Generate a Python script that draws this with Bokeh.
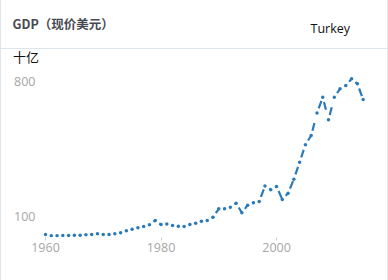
from bokeh.plotting import figure
from bokeh.layouts import column
from bokeh.models import FixedTicker, Label, BoxAnnotation, ColumnDataSource, Range1d
from bokeh.embed import file_html
from bokeh.resources import INLINE

years = list(range(1960, 2016))
gdp = [6.7, 0.5, 0.8, 1.5, 2.0, 2.5, 3.0, 5.0, 6.7, 10.3,
       6.7, 6.7, 10.3, 15.5, 25.9, 34.1, 41.4, 48.1, 57.0, 79.3,
       58.5, 61.0, 53.3, 49.7, 48.1, 58.5, 65.3, 75.6, 79.3, 96.4,
       139.9, 139.9, 148.2, 169.0, 119.2, 158.6, 171.0, 177.8, 258.1, 238.4,
       255.6, 188.1, 220.8, 293.4, 381.6, 472.3, 520.0, 636.7, 718.6, 601.4,
       718.6, 762.7, 779.3, 814.0, 788.0, 706.7]
y_ticks = [100, 800]
x_ticks = [1960, 1980, 2000]
title_text = "GDP（现价美元）"
unit_text = "十亿"
country = "Turkey"

color = "#2a7ab9"
rule = "#dde5ec"

# ---- header (title, series name, separator, unit) ----
head = figure(width=388, height=68, output_backend="svg", toolbar_location=None,
              x_range=Range1d(0, 388), y_range=Range1d(68, 0),
              x_axis_location=None, y_axis_location=None, min_border=0)
head.frame_align = False
head.outline_line_color = None
head.grid.visible = False
head.background_fill_alpha = 0
head.border_fill_alpha = 0
head.add_layout(BoxAnnotation(left=0, right=388, top=47.5, bottom=48.5,
                              fill_color=rule, fill_alpha=1, line_color=None))
head.add_layout(Label(x=12, y=22.5, text=title_text,
                      text_font="Noto Sans CJK SC", text_font_style="bold", text_font_size="12.5px",
                      text_color="#464a50", text_baseline="middle"))
head.add_layout(Label(x=310, y=28, text=country,
                      text_font="Open Sans", text_font_size="12.5px",
                      text_color="#111111", text_baseline="middle"))
head.add_layout(Label(x=12.5, y=56, text=unit_text,
                      text_font="Noto Sans CJK SC", text_font_size="13px",
                      text_color="#111111", text_baseline="middle"))

# ---- chart ----
p = figure(width=388, height=212, output_backend="svg", toolbar_location=None,
           x_range=Range1d(1959.134, 2018.0), y_range=Range1d(-8.9, 867.4),
           min_border_left=40, min_border_right=8, min_border_top=0, min_border_bottom=43)
p.frame_align = False
p.outline_line_color = None
p.grid.visible = False
p.background_fill_color = "white"
p.border_fill_alpha = 0

p.xaxis.ticker = FixedTicker(ticks=x_ticks)
p.yaxis.ticker = FixedTicker(ticks=y_ticks)
for ax in (p.xaxis[0], p.yaxis[0]):
    ax.axis_line_color = None
    ax.major_label_text_color = "#a6a6a6"
    ax.major_label_text_font = "Open Sans"
    ax.major_label_text_font_size = "12.5px"
    ax.minor_tick_line_color = None
p.xaxis.major_tick_line_color = "#cccccc"
p.xaxis.major_tick_in = 0
p.xaxis.major_tick_out = 3
p.xaxis.major_label_standoff = 2
p.yaxis.major_tick_line_color = None
p.yaxis.major_tick_in = 0
p.yaxis.major_tick_out = 0
p.yaxis.major_label_standoff = 5

src = ColumnDataSource(dict(x0=years[:-1], y0=gdp[:-1], x1=years[1:], y1=gdp[1:]))
p.segment(x0="x0", y0="y0", x1="x1", y1="y1", source=src, line_color=color,
          line_width=2.2, line_dash="0 5 8 100")
p.scatter(years, gdp, size=3.5, fill_color=color, line_color=None)

layout = column(head, p, spacing=0,
                styles={"box-shadow": "inset 1px 0 0 #dfe5eb, inset -1px 0 0 #e6e6e6",
                        "background": "white"})

open("out.html", "w").write(file_html(layout, INLINE))
